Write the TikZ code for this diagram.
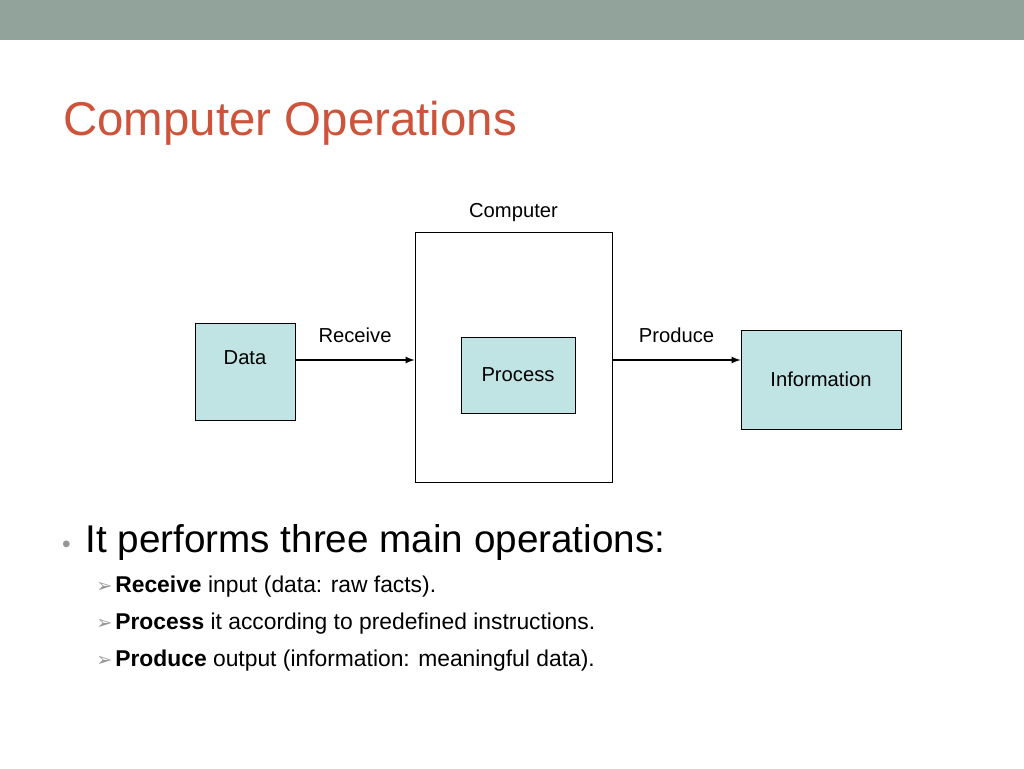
\documentclass[tikz,border=0pt]{standalone}
\usepackage{fontspec}
\setmainfont{Liberation Sans}
\newfontfamily\symfont{DejaVu Sans}
\usetikzlibrary{positioning}
\definecolor{barcolor}{RGB}{145,163,154}
\definecolor{titlered}{RGB}{205,84,58}
\definecolor{boxcyan}{RGB}{192,228,228}
\definecolor{bulletgray}{RGB}{150,150,150}
\tikzset{
  unitbox/.style={draw,fill=boxcyan,font=\fontsize{11.5}{13}\selectfont},
  flow/.style={->,>=latex,thick},
  lbl/.style={font=\fontsize{11.5}{13}\selectfont},
  item/.style={anchor=base west,font=\fontsize{13}{15}\selectfont}
}
\begin{document}
\begin{tikzpicture}[x=0.02cm,y=-0.02cm]
  \useasboundingbox (0,0) rectangle (1024,768);
  \fill[barcolor] (0,0) rectangle (1024,40);
  \node[anchor=base west,text=titlered,inner sep=0,font=\fontsize{27}{30}\selectfont] (title) at (63,135) {Computer Operations};
  % diagram
  \node[draw,minimum width=197*0.02cm,minimum height=250*0.02cm] (computer) at (513.5,357) {};
  \node[lbl,above=2pt of computer] {Computer};
  \node[unitbox,minimum width=100*0.02cm,minimum height=97*0.02cm,text depth=16pt] (data) at (245,371.5) {Data};
  \node[unitbox,minimum width=114*0.02cm,minimum height=76*0.02cm] (process) at (518,375) {Process};
  \node[unitbox,minimum width=160*0.02cm,minimum height=99*0.02cm] (info) at (821,379.5) {Information};
  \coordinate (inL) at (computer.west |- 0,360);
  \coordinate (outR) at (computer.east |- 0,360);
  \draw[flow] (data.east |- 0,360) -- node[lbl,above=6pt] {Receive} (inL);
  \draw[flow] (outR) -- node[lbl,above=6pt] {Produce} (info.west |- 0,360);
  % bullets
  \node[anchor=base west,text=bulletgray,font=\fontsize{14}{16}\selectfont] (dot) at (56,552) {•};
  \node[anchor=base west,inner sep=0,font=\fontsize{22}{26}\selectfont] (main) at (85,552) {It performs three main operations:};
  \foreach \y/\t in {592/{\textbf{Receive} input (data: raw facts).},
                     629/{\textbf{Process} it according to predefined instructions.},
                     666/{\textbf{Produce} output (information: meaningful data).}} {
    \node[anchor=base west,inner sep=0,text=bulletgray,font=\symfont\fontsize{11}{13}\selectfont] at (96,\y) {➢};
    \node[item,inner sep=0] at (115,\y) {\t};
  }
\end{tikzpicture}
\end{document}
